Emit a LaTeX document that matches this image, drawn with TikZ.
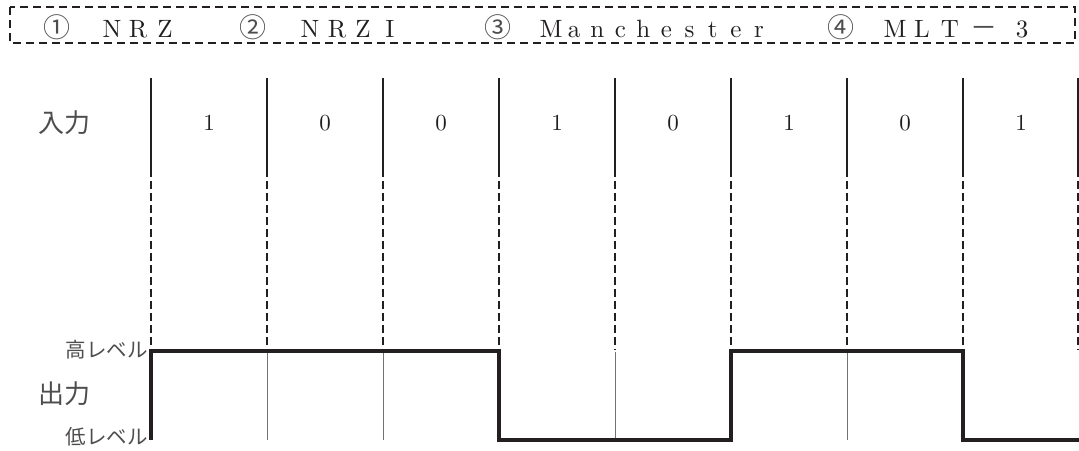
\documentclass[tikz,border=0pt]{standalone}
\usepackage{fontspec}
\newfontfamily\cjk{Noto Sans CJK JP}
\newfontfamily\lmr{lmroman10-regular}[Extension=.otf]
\definecolor{ink}{HTML}{231F20}
\begin{document}
\begin{tikzpicture}[x=1pt,y=-1pt,
  tt/.style={inner sep=0pt,anchor=base,font=\lmr\fontsize{25}{25}\selectfont,text=ink},
  ttc/.style={inner sep=0pt,anchor=base,font=\cjk\fontsize{27}{27}\selectfont,text=ink!80},
  bit/.style={inner sep=0pt,font=\lmr\fontsize{23}{23}\selectfont,text=ink},
  big/.style={inner sep=0pt,font=\cjk\fontsize{26}{26}\selectfont,text=ink!80},
  lvl/.style={inner sep=0pt,anchor=east,font=\cjk\fontsize{20.5}{20.5}\selectfont,text=ink!80},
  solidseg/.style={draw=ink,line width=1.5pt},
  dashseg/.style={draw=ink,line width=1.3pt,dash pattern=on 8pt off 4pt},
  thinseg/.style={draw=black!55,line width=0.9pt},
  wave/.style={draw=ink,line width=4.5pt,line join=miter},
  boxd/.style={draw=ink,line width=1.5pt,dash pattern=on 8pt off 5pt}]
\useasboundingbox (0,0) rectangle (1079,450);
% title box
\draw[boxd] (10,7) rectangle (1075,43);
\node[ttc] (c1) at (57,37) {①};
\foreach \ch/\xx [count=\i] in {N/112,R/138,Z/165}
  \node[tt] (a\i) at (\xx,37) {\ch};
\node[ttc] (c2) at (253,37) {②};
\foreach \ch/\xx [count=\i] in {N/310,R/337,Z/363,I/390}
  \node[tt] (b\i) at (\xx,37) {\ch};
\node[ttc] (c3) at (498,37) {③};
\foreach \ch [count=\i] in {M,a,n,c,h,e,s,t,e,r}
  \node[tt] (m\i) at ({551+(\i-1)*23.1},37) {\ch};
\node[ttc] (c4) at (841,37) {④};
\foreach \ch/\xx [count=\i] in {M/895,L/922,T/950}
  \node[tt] (d\i) at (\xx,37) {\ch};
\node[ttc] (d4) at (984,37) {－};
\node[tt] (d5) at (1022,37) {3};
% grid lines
\foreach \xx in {151,267,383,499,615,731,847,963,1078}{
  \coordinate (t\xx) at (\xx,78);
  \coordinate (m\xx) at (\xx,169);
  \coordinate (w\xx) at (\xx,350);
  \draw[solidseg] (t\xx) -- (m\xx);
  \draw[dashseg] (m\xx) -- (w\xx);
}
\foreach \xx in {267,383,615,847}{
  \coordinate (h\xx) at (\xx,352);
  \coordinate (l\xx) at (\xx,440);
  \draw[thinseg] (h\xx) -- (l\xx);
}
% labels
\node[big] (in) at (64,123) {入力};
\foreach \b/\xx [count=\i] in {1/209,0/325,0/441,1/557,0/673,1/789,0/905,1/1021}
  \node[bit] (bit\i) at (\xx,123) {\b};
\node[big] (out) at (64,394) {出力};
\node[lvl] (hi) at (148,350) {高レベル};
\node[lvl] (lo) at (148,437) {低レベル};
% waveform
\draw[wave] (151,440) -- (151,351) -- (499,351) -- (499,440) -- (731,440)
  -- (731,351) -- (963,351) -- (963,440) -- (1079,440);
\end{tikzpicture}
\end{document}
